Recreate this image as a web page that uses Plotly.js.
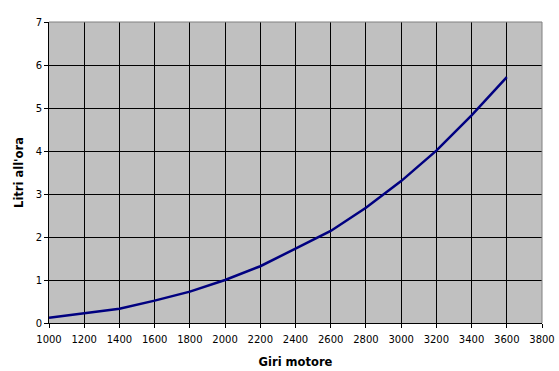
<!DOCTYPE html>
<html>
<head>
<meta charset="utf-8">
<script src="https://cdn.plot.ly/plotly-3.0.1.min.js"></script>
<style>html,body{margin:0;padding:0;background:#fff;}#chart{width:559px;height:371px;}</style>
</head>
<body>
<div id="chart"></div>
<script>
const giri = [1000, 1200, 1400, 1600, 1800, 2000, 2200, 2400, 2600, 2800, 3000, 3200, 3400, 3600];
const litri = [0.12, 0.23, 0.33, 0.52, 0.73, 1.0, 1.32, 1.73, 2.14, 2.68, 3.30, 4.01, 4.83, 5.72];
const xTicks = [1000, 1200, 1400, 1600, 1800, 2000, 2200, 2400, 2600, 2800, 3000, 3200, 3400, 3600, 3800];
const yTicks = [0, 1, 2, 3, 4, 5, 6, 7];

const tickFont = {family: 'DejaVu Sans, sans-serif', size: 10, color: '#000'};
const titleFont = {family: 'DejaVu Sans, sans-serif', size: 11.5, color: '#000', weight: 'bold'};

const data = [{
  x: giri, y: litri, type: 'scatter', mode: 'lines',
  line: {color: '#000080', width: 2.5},
  hoverinfo: 'skip'
}];

const layout = {
  width: 559, height: 371,
  margin: {l: 49, r: 17, t: 22, b: 48},
  paper_bgcolor: '#ffffff',
  plot_bgcolor: '#c0c0c0',
  showlegend: false,
  xaxis: {
    range: [1000, 3800], tickvals: xTicks, ticktext: xTicks.map(String),
    showgrid: true, gridcolor: '#000', gridwidth: 1,
    zeroline: false, showline: true, linecolor: '#000', linewidth: 1,
    ticks: 'outside', ticklen: 4, tickcolor: '#000',
    ticklabelstandoff: 3,
    tickfont: tickFont,
    title: {text: 'Giri motore', font: titleFont, standoff: 13},
    fixedrange: true
  },
  yaxis: {
    range: [0, 7], tickvals: yTicks, ticktext: yTicks.map(String),
    showgrid: true, gridcolor: '#000', gridwidth: 1,
    zeroline: false, showline: true, linecolor: '#000', linewidth: 1,
    ticks: 'outside', ticklen: 4, tickcolor: '#000',
    tickfont: tickFont,
    title: {text: "Litri all'ora", font: titleFont, standoff: 9},
    fixedrange: true
  },
  shapes: [
    {type: 'line', xref: 'paper', yref: 'paper', x0: 0, x1: 1, y0: 1, y1: 1, line: {color: '#808080', width: 1}, layer: 'above'},
    {type: 'line', xref: 'paper', yref: 'paper', x0: 1, x1: 1, y0: 0, y1: 1, line: {color: '#808080', width: 1}, layer: 'above'}
  ]
};

Plotly.newPlot('chart', data, layout, {staticPlot: true, displayModeBar: false});
</script>
</body>
</html>
